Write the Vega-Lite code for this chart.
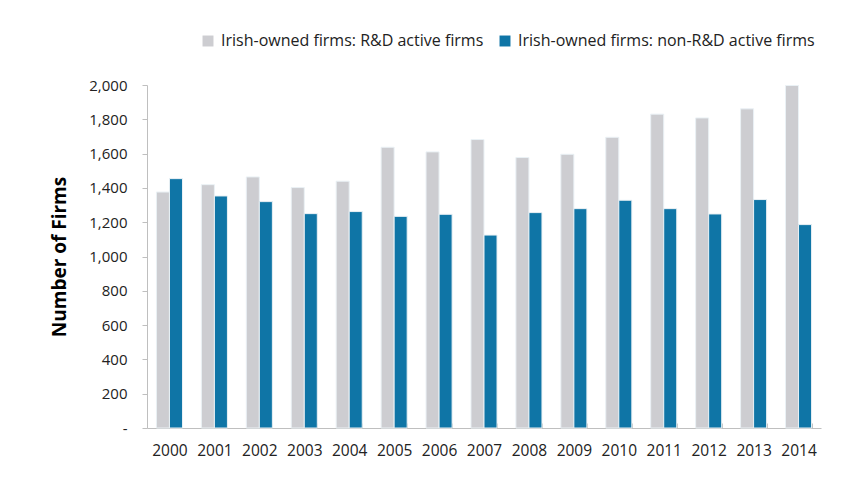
{
  "$schema": "https://vega.github.io/schema/vega-lite/v6.json",
  "autosize": {"type": "none"},
  "padding": {"left": 147, "top": 85, "right": 42, "bottom": 61},
  "width": 674,
  "height": 343,
  "background": "white",
  "config": {
    "view": {"stroke": null},
    "font": "Open Sans",
    "axis": {"labelFont": "Open Sans", "titleFont": "Open Sans"}
  },
  "data": {
    "values": [
      {"year": "2000", "series": "Irish-owned firms: R&D active firms", "value": 1376},
      {"year": "2000", "series": "Irish-owned firms: non-R&D active firms", "value": 1454},
      {"year": "2001", "series": "Irish-owned firms: R&D active firms", "value": 1419},
      {"year": "2001", "series": "Irish-owned firms: non-R&D active firms", "value": 1353},
      {"year": "2002", "series": "Irish-owned firms: R&D active firms", "value": 1464},
      {"year": "2002", "series": "Irish-owned firms: non-R&D active firms", "value": 1320},
      {"year": "2003", "series": "Irish-owned firms: R&D active firms", "value": 1402},
      {"year": "2003", "series": "Irish-owned firms: non-R&D active firms", "value": 1250},
      {"year": "2004", "series": "Irish-owned firms: R&D active firms", "value": 1439},
      {"year": "2004", "series": "Irish-owned firms: non-R&D active firms", "value": 1262},
      {"year": "2005", "series": "Irish-owned firms: R&D active firms", "value": 1637},
      {"year": "2005", "series": "Irish-owned firms: non-R&D active firms", "value": 1234},
      {"year": "2006", "series": "Irish-owned firms: R&D active firms", "value": 1610},
      {"year": "2006", "series": "Irish-owned firms: non-R&D active firms", "value": 1246},
      {"year": "2007", "series": "Irish-owned firms: R&D active firms", "value": 1682},
      {"year": "2007", "series": "Irish-owned firms: non-R&D active firms", "value": 1125},
      {"year": "2008", "series": "Irish-owned firms: R&D active firms", "value": 1577},
      {"year": "2008", "series": "Irish-owned firms: non-R&D active firms", "value": 1256},
      {"year": "2009", "series": "Irish-owned firms: R&D active firms", "value": 1596},
      {"year": "2009", "series": "Irish-owned firms: non-R&D active firms", "value": 1279},
      {"year": "2010", "series": "Irish-owned firms: R&D active firms", "value": 1695},
      {"year": "2010", "series": "Irish-owned firms: non-R&D active firms", "value": 1328},
      {"year": "2011", "series": "Irish-owned firms: R&D active firms", "value": 1830},
      {"year": "2011", "series": "Irish-owned firms: non-R&D active firms", "value": 1279},
      {"year": "2012", "series": "Irish-owned firms: R&D active firms", "value": 1808},
      {"year": "2012", "series": "Irish-owned firms: non-R&D active firms", "value": 1248},
      {"year": "2013", "series": "Irish-owned firms: R&D active firms", "value": 1861},
      {"year": "2013", "series": "Irish-owned firms: non-R&D active firms", "value": 1332},
      {"year": "2014", "series": "Irish-owned firms: R&D active firms", "value": 1997},
      {"year": "2014", "series": "Irish-owned firms: non-R&D active firms", "value": 1186}
    ]
  },
  "mark": {"type": "bar", "stroke": "#EAF1F5", "strokeWidth": 1},
  "encoding": {
    "x": {
      "field": "year",
      "type": "nominal",
      "scale": {"paddingInner": 0.42, "paddingOuter": 0.21},
      "axis": {
        "title": null,
        "labelAngle": 0,
        "labelFontSize": 15.5,
        "labelColor": "#222222",
        "labelPadding": 20,
        "domainColor": "#BFBFBF",
        "tickColor": "#BFBFBF",
        "tickBand": "extent",
        "tickSize": -5
      }
    },
    "xOffset": {"field": "series", "type": "nominal", "sort": ["Irish-owned firms: R&D active firms", "Irish-owned firms: non-R&D active firms"], "scale": {"paddingInner": 0}},
    "y": {
      "field": "value",
      "type": "quantitative",
      "scale": {"domain": [0, 2000], "nice": false},
      "axis": {
        "title": "Number of  Firms",
        "titleFontSize": 19,
        "titleFontWeight": "bold",
        "titleColor": "#000000",
        "titlePadding": 19,
        "values": [0, 200, 400, 600, 800, 1000, 1200, 1400, 1600, 1800, 2000],
        "labelExpr": "datum.value == 0 ? '-' : format(datum.value, ',')",
        "labelOverlap": false,
        "labelFontSize": 15,
        "labelColor": "#222222",
        "labelPadding": 15,
        "tickSize": 5,
        "grid": false,
        "domainColor": "#BFBFBF",
        "tickColor": "#BFBFBF"
      }
    },
    "color": {
      "field": "series",
      "type": "nominal",
      "sort": ["Irish-owned firms: R&D active firms", "Irish-owned firms: non-R&D active firms"],
      "scale": {"range": ["#CDCDD1", "#0F75A6"]},
      "legend": {
        "title": null,
        "orient": "none",
        "direction": "horizontal",
        "legendX": 53,
        "legendY": -52,
        "symbolType": "square",
        "symbolSize": 120,
        "symbolStrokeWidth": 0,
        "labelFontSize": 16,
        "labelLimit": 500,
        "labelColor": "#222222",
        "columnPadding": 13,
        "labelOffset": 5
      }
    }
  }
}
